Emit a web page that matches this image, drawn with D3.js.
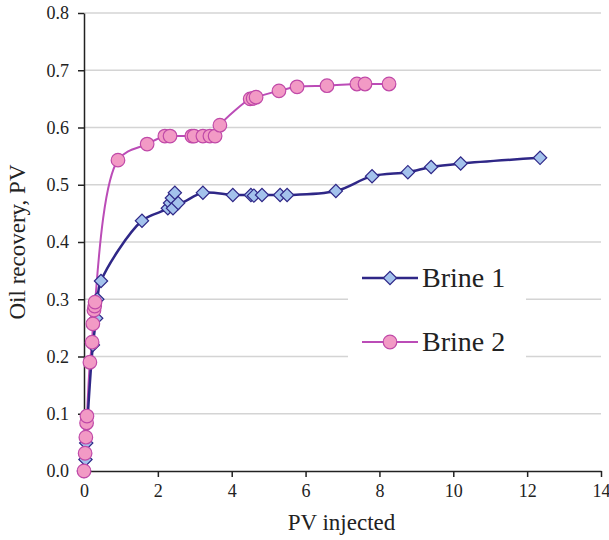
<!DOCTYPE html>
<html><head><meta charset="utf-8">
<script src="https://cdn.jsdelivr.net/npm/d3@7"></script>
<style>body{margin:0;background:#fff}svg{display:block}</style>
</head><body><svg id="c" width="609" height="540"></svg>
<script>
const seriesNames = ["Brine 1", "Brine 2"];
const brine1X = [0, 0.04, 0.06, 0.24, 0.33, 0.36, 0.46, 1.57, 2.27, 2.33, 2.38, 2.41, 2.46, 2.55, 3.22, 4.03, 4.52, 4.6, 4.82, 5.31, 5.5, 6.82, 7.8, 8.77, 9.4, 10.2, 12.35];
const brine1Y = [0, 0.02, 0.049, 0.22, 0.267, 0.30, 0.332, 0.437, 0.459, 0.468, 0.477, 0.459, 0.486, 0.468, 0.486, 0.482, 0.482, 0.481, 0.482, 0.482, 0.482, 0.489, 0.515, 0.522, 0.531, 0.537, 0.547];
const brine2X = [0, 0.03, 0.05, 0.07, 0.08, 0.16, 0.22, 0.24, 0.27, 0.29, 0.30, 0.92, 1.71, 2.19, 2.33, 2.92, 2.98, 3.22, 3.41, 3.55, 3.68, 4.5, 4.58, 4.66, 5.28, 5.77, 6.58, 7.39, 7.61, 8.26];
const brine2Y = [0, 0.031, 0.059, 0.084, 0.096, 0.19, 0.225, 0.257, 0.281, 0.288, 0.295, 0.543, 0.571, 0.585, 0.585, 0.585, 0.585, 0.585, 0.585, 0.585, 0.604, 0.65, 0.651, 0.653, 0.664, 0.671, 0.673, 0.676, 0.676, 0.676];
const xTicks = [0, 2, 4, 6, 8, 10, 12, 14];
const yTicks = [0, 0.1, 0.2, 0.3, 0.4, 0.5, 0.6, 0.7, 0.8];

const FONT = "'Liberation Serif', Tinos, 'Times New Roman', Times, 'DejaVu Serif', serif";
const svg = d3.select("#c").attr("font-family", FONT);
const L = 84, R = 601, T = 13, B = 471;
const x = d3.scaleLinear().domain([0, 14]).range([L, R]);
const y = d3.scaleLinear().domain([0, 0.8]).range([B, T]);

// gridlines
svg.append("g").selectAll("line").data(yTicks.filter(d => d > 0)).join("line")
  .attr("x1", L).attr("x2", R).attr("y1", d => y(d)).attr("y2", d => y(d))
  .attr("stroke", "#d4d4d4").attr("stroke-width", 1.5);

// legend background (covers gridlines)
svg.append("rect").attr("x", 348).attr("y", 250).attr("width", 178).attr("height", 125).attr("fill", "#fff");

// axes
const fmt = d3.format(".1f");
const gx = svg.append("g").attr("transform", `translate(0,${B})`)
  .call(d3.axisBottom(x).tickValues(xTicks).tickFormat(d3.format("d")).tickSize(6).tickPadding(5).tickSizeOuter(0));
const gy = svg.append("g").attr("transform", `translate(${L},0)`)
  .call(d3.axisLeft(y).tickValues(yTicks).tickFormat(fmt).tickSize(6).tickPadding(9).tickSizeOuter(0));
[gx, gy].forEach(g => {
  g.attr("font-family", FONT).attr("font-size", 18);
  g.select(".domain").attr("stroke", "#222").attr("stroke-width", 1.5);
  g.selectAll(".tick line").attr("stroke", "#222").attr("stroke-width", 1.5);
  g.selectAll(".tick text").style("font-family", FONT).attr("fill", "#222");
});
gx.selectAll(".tick text").attr("dy", "0.85em");

svg.append("text").attr("x", (L + R) / 2 - 1).attr("y", 530).attr("text-anchor", "middle")
  .style("font-family", FONT).attr("font-size", 23).attr("fill", "#222").text("PV injected");
svg.append("text").attr("transform", "translate(25,242) rotate(-90)").attr("text-anchor", "middle")
  .style("font-family", FONT).attr("font-size", 23).attr("fill", "#222").text("Oil recovery, PV");

const s1 = brine1X.map((v, i) => [v, brine1Y[i]]);
const s2 = brine2X.map((v, i) => [v, brine2Y[i]]);
const line = d3.line().x(d => x(d[0])).y(d => y(d[1])).curve(d3.curveCatmullRom.alpha(0.5));

const c1 = {line: "#2f2787", fill: "#a3c2ec", stroke: "#2f2787"};
const c2 = {line: "#bb4cb7", fill: "#f29ac5", stroke: "#c049a8"};

svg.append("path").datum(s2).attr("d", line).attr("fill", "none").attr("stroke", c2.line).attr("stroke-width", 2);
svg.append("path").datum(s1).attr("d", line).attr("fill", "none").attr("stroke", c1.line).attr("stroke-width", 2.5);

const diamond = d3.symbol().type(d3.symbolSquare).size(88);
svg.append("g").selectAll("path").data(s1).join("path")
  .attr("d", diamond).attr("transform", d => `translate(${x(d[0])},${y(d[1])}) rotate(45)`)
  .attr("fill", c1.fill).attr("stroke", c1.stroke).attr("stroke-width", 1.2);
svg.append("g").selectAll("circle").data(s2).join("circle")
  .attr("cx", d => x(d[0])).attr("cy", d => y(d[1])).attr("r", 6.8)
  .attr("fill", c2.fill).attr("stroke", c2.stroke).attr("stroke-width", 1.2);

// legend
const lg = svg.append("g");
const items = [{n: seriesNames[0], c: c1, yy: 278, t: "d"}, {n: seriesNames[1], c: c2, yy: 342, t: "c"}];
items.forEach(it => {
  lg.append("line").attr("x1", 362).attr("x2", 418).attr("y1", it.yy).attr("y2", it.yy)
    .attr("stroke", it.c.line).attr("stroke-width", it.t === "d" ? 2.5 : 2);
  if (it.t === "d") {
    lg.append("path").attr("d", diamond).attr("transform", `translate(390,${it.yy}) rotate(45)`)
      .attr("fill", it.c.fill).attr("stroke", it.c.stroke).attr("stroke-width", 1.2);
  } else {
    lg.append("circle").attr("cx", 390).attr("cy", it.yy).attr("r", 6.8)
      .attr("fill", it.c.fill).attr("stroke", it.c.stroke).attr("stroke-width", 1.2);
  }
  lg.append("text").attr("x", 422).attr("y", it.yy + 9).style("font-family", FONT)
    .attr("font-size", 28).attr("fill", "#222").text(it.n);
});
</script></body></html>
